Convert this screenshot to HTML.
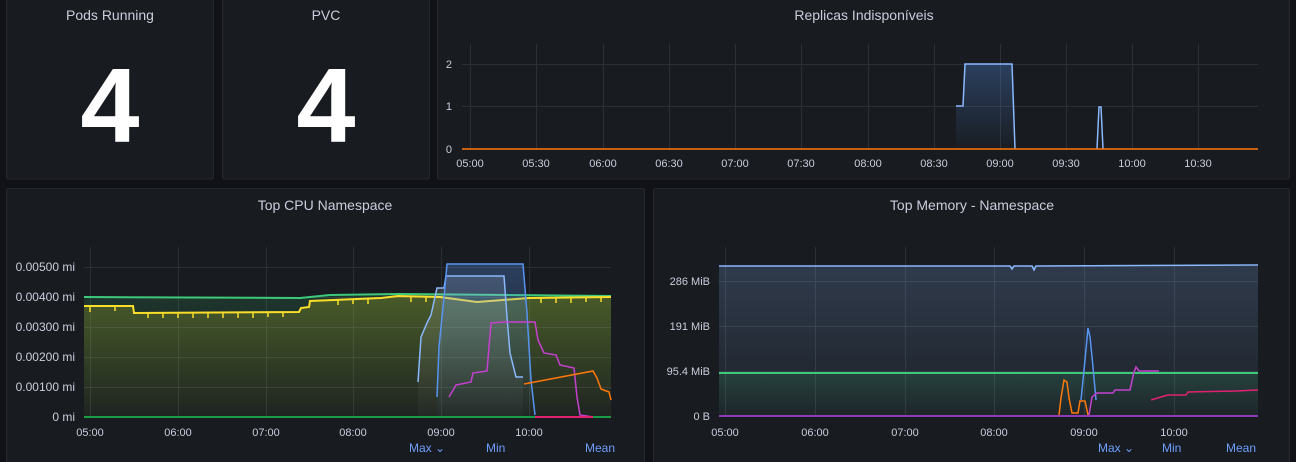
<!DOCTYPE html>
<html><head><meta charset="utf-8"><style>
html,body{margin:0;padding:0;background:#111217;width:1296px;height:462px;overflow:hidden}
svg{display:block}
text{font-family:"Liberation Sans",sans-serif}
</style></head><body>
<svg width="1296" height="462" viewBox="0 0 1296 462" xmlns="http://www.w3.org/2000/svg">
<defs>
<linearGradient id="gb" x1="0" y1="0" x2="0" y2="1"><stop offset="0" stop-color="#5794f2" stop-opacity="0.3"/><stop offset="1" stop-color="#5794f2" stop-opacity="0.02"/></linearGradient>
<linearGradient id="gm" x1="0" y1="0" x2="0" y2="1"><stop offset="0" stop-color="#8ab8ff" stop-opacity="0.2"/><stop offset="1" stop-color="#8ab8ff" stop-opacity="0.04"/></linearGradient>
<linearGradient id="gy" x1="0" y1="0" x2="0" y2="1"><stop offset="0" stop-color="#c8c81e" stop-opacity="0.25"/><stop offset="1" stop-color="#c8c81e" stop-opacity="0.03"/></linearGradient>
<linearGradient id="gg" x1="0" y1="0" x2="0" y2="1"><stop offset="0" stop-color="#3ec97a" stop-opacity="0.15"/><stop offset="1" stop-color="#3ec97a" stop-opacity="0.02"/></linearGradient>
<linearGradient id="gw" x1="0" y1="0" x2="0" y2="1"><stop offset="0" stop-color="#ffffff" stop-opacity="0.15"/><stop offset="1" stop-color="#ffffff" stop-opacity="0.02"/></linearGradient>
<clipPath id="cp"><rect x="14" y="188" width="630" height="280"/></clipPath>
</defs>
<g fill="#181b1f" stroke="#25282e" stroke-width="1">
<rect x="6.5" y="-5" width="207" height="184" rx="2"/>
<rect x="222.5" y="-5" width="207" height="184" rx="2"/>
<rect x="437.5" y="-5" width="852" height="184" rx="2"/>
<rect x="6.5" y="188.5" width="638" height="280" rx="2"/>
<rect x="653.5" y="188.5" width="636" height="280" rx="2"/>
</g>
<g fill="#ccccdc" font-size="14" text-anchor="middle" font-weight="500">
<text x="110" y="20">Pods Running</text>
<text x="326" y="20">PVC</text>
<text x="864" y="20">Replicas Indisponíveis</text>
<text x="325" y="210">Top CPU Namespace</text>
<text x="972" y="210">Top Memory - Namespace</text>
</g>
<g fill="#ffffff" font-size="106" font-weight="bold" text-anchor="middle">
<text x="110" y="142">4</text>
<text x="326" y="142">4</text>
</g>
<!-- Replicas -->
<g stroke="#2c2f35" stroke-width="1">
<line x1="462" y1="64.5" x2="1258" y2="64.5"/><line x1="462" y1="106.5" x2="1258" y2="106.5"/>
<line x1="470.5" y1="44" x2="470.5" y2="149"/><line x1="536.5" y1="44" x2="536.5" y2="149"/><line x1="603.5" y1="44" x2="603.5" y2="149"/><line x1="669.5" y1="44" x2="669.5" y2="149"/><line x1="735.5" y1="44" x2="735.5" y2="149"/><line x1="801.5" y1="44" x2="801.5" y2="149"/><line x1="868.5" y1="44" x2="868.5" y2="149"/><line x1="934.5" y1="44" x2="934.5" y2="149"/><line x1="1000.5" y1="44" x2="1000.5" y2="149"/><line x1="1066.5" y1="44" x2="1066.5" y2="149"/><line x1="1132.5" y1="44" x2="1132.5" y2="149"/><line x1="1198.5" y1="44" x2="1198.5" y2="149"/>
</g>
<g fill="#ccccdc" font-size="11">
<text x="452" y="68" text-anchor="end">2</text><text x="452" y="110" text-anchor="end">1</text><text x="452" y="153" text-anchor="end">0</text>
<g text-anchor="middle"><text x="470" y="167">05:00</text><text x="536" y="167">05:30</text><text x="603" y="167">06:00</text><text x="669" y="167">06:30</text><text x="735" y="167">07:00</text><text x="801" y="167">07:30</text><text x="868" y="167">08:00</text><text x="934" y="167">08:30</text><text x="1000" y="167">09:00</text><text x="1066" y="167">09:30</text><text x="1132" y="167">10:00</text><text x="1198" y="167">10:30</text></g>
</g>
<path d="M956 149 L956 106 L963 106 L965 64 L1012 64 L1015 149 Z" fill="url(#gb)"/>
<path d="M956 106 L963 106 L965 64 L1012 64 L1015 149" fill="none" stroke="#8ab8ff" stroke-width="1.5"/>
<path d="M1097 149 L1099 107 L1101 107 L1103 149" fill="none" stroke="#8ab8ff" stroke-width="1.5"/>
<line x1="462" y1="149" x2="1258" y2="149" stroke="#ff780a" stroke-width="1.5"/>
<!-- CPU -->
<g stroke="#2c2f35" stroke-width="1">
<line x1="84" y1="267.5" x2="611" y2="267.5"/><line x1="84" y1="297.5" x2="611" y2="297.5"/><line x1="84" y1="327.5" x2="611" y2="327.5"/><line x1="84" y1="357.5" x2="611" y2="357.5"/><line x1="84" y1="387.5" x2="611" y2="387.5"/>
<line x1="90.5" y1="247" x2="90.5" y2="417"/><line x1="178.5" y1="247" x2="178.5" y2="417"/><line x1="266.5" y1="247" x2="266.5" y2="417"/><line x1="353.5" y1="247" x2="353.5" y2="417"/><line x1="441.5" y1="247" x2="441.5" y2="417"/><line x1="529.5" y1="247" x2="529.5" y2="417"/>
</g>
<g fill="#ccccdc" font-size="12" clip-path="url(#cp)">
<g text-anchor="end"><text x="75" y="271">0.00500 mi</text><text x="75" y="301">0.00400 mi</text><text x="75" y="331">0.00300 mi</text><text x="75" y="361">0.00200 mi</text><text x="75" y="391">0.00100 mi</text><text x="75" y="421">0 mi</text></g>
</g>
<g fill="#ccccdc" font-size="11">
<g text-anchor="middle"><text x="90" y="436">05:00</text><text x="178" y="436">06:00</text><text x="266" y="436">07:00</text><text x="353" y="436">08:00</text><text x="441" y="436">09:00</text><text x="529" y="436">10:00</text></g>
</g>
<path d="M84 297 L300 298 L330 295 L400 294 L611 296 L611 417 L84 417 Z" fill="url(#gg)"/>
<path d="M84 306 L133 306 L134 313 L299 312 L301 308 L309 307 L310 301 L381 298 L398 296 L440 297 L477 302 L529 298 L611 297 L611 417 L84 417 Z" fill="url(#gy)"/>
<path d="M84 297 L300 298 L330 295 L400 294 L611 296" fill="none" stroke="#3ec97a" stroke-width="2"/>
<path d="M84 306 L133 306 L134 313 L299 312 L301 308 L309 307 L310 301 L381 298 L398 296 L440 297 L477 302 L529 298 L611 297" fill="none" stroke="#fade2a" stroke-width="2"/>
<g stroke="#fade2a" stroke-width="1.5">
<line x1="90" y1="306" x2="90" y2="312"/><line x1="115" y1="306" x2="115" y2="311"/><line x1="148" y1="313" x2="148" y2="318"/><line x1="163" y1="313" x2="163" y2="318"/><line x1="178" y1="313" x2="178" y2="318"/><line x1="193" y1="313" x2="193" y2="318"/><line x1="208" y1="313" x2="208" y2="318"/><line x1="223" y1="313" x2="223" y2="318"/><line x1="238" y1="313" x2="238" y2="318"/><line x1="253" y1="313" x2="253" y2="318"/><line x1="268" y1="312" x2="268" y2="317"/><line x1="283" y1="312" x2="283" y2="317"/><line x1="338" y1="300" x2="338" y2="305"/><line x1="353" y1="299" x2="353" y2="304"/><line x1="368" y1="299" x2="368" y2="304"/><line x1="411" y1="297" x2="411" y2="302"/><line x1="426" y1="297" x2="426" y2="302"/><line x1="541" y1="298" x2="541" y2="303"/><line x1="556" y1="298" x2="556" y2="303"/><line x1="571" y1="298" x2="571" y2="303"/><line x1="586" y1="297" x2="586" y2="302"/><line x1="601" y1="297" x2="601" y2="302"/>
</g>
<path d="M418 382 L421 337 L427 323 L431 315 L437 288 L444 288 L446 276 L504 276 L507 317 L510 353 L516 377 L523 377 L523 417 L418 417Z" fill="url(#gw)"/>
<path d="M437 397 L439 347 L444 297 L447 264 L523 264 L527 313 L531 380 L535 415 L535 417 L437 417Z" fill="url(#gb)"/>
<path d="M418 382 L421 337 L427 323 L431 315 L437 288 L444 288 L446 276 L504 276 L507 317 L510 353 L516 377 L523 377" fill="none" stroke="#8ab8ff" stroke-width="1.5"/>
<path d="M437 397 L439 347 L444 297 L447 264 L523 264 L527 313 L531 380 L535 415" fill="none" stroke="#5794f2" stroke-width="1.5"/>
<path d="M449 397 L456 385 L471 382 L473 373 L487 371 L491 323 L504 322 L535 322 L538 340 L544 353 L556 355 L560 365 L574 368 L577 397 L580 415 L593 417" fill="none" stroke="#c640d0" stroke-width="1.5"/>
<path d="M524 384 L593 371 L597 378 L601 389 L609 392 L611 400" fill="none" stroke="#ff780a" stroke-width="1.5"/>
<line x1="84" y1="417" x2="611" y2="417" stroke="#1a9e45" stroke-width="2"/>
<line x1="535" y1="417" x2="593" y2="417" stroke="#e0226e" stroke-width="2"/>
<g fill="#6e9fff" font-size="12"><text x="409" y="452">Max ⌄</text><text x="486" y="452">Min</text><text x="585" y="452">Mean</text></g>
<!-- Memory -->
<g stroke="#2c2f35" stroke-width="1">
<line x1="719" y1="281.5" x2="1258" y2="281.5"/><line x1="719" y1="326.5" x2="1258" y2="326.5"/><line x1="719" y1="371.5" x2="1258" y2="371.5"/>
<line x1="725.5" y1="247" x2="725.5" y2="416"/><line x1="815.5" y1="247" x2="815.5" y2="416"/><line x1="905.5" y1="247" x2="905.5" y2="416"/><line x1="994.5" y1="247" x2="994.5" y2="416"/><line x1="1084.5" y1="247" x2="1084.5" y2="416"/><line x1="1174.5" y1="247" x2="1174.5" y2="416"/>
</g>
<g fill="#ccccdc" font-size="11">
<g text-anchor="end"><text x="710" y="285">286 MiB</text><text x="710" y="330">191 MiB</text><text x="710" y="375">95.4 MiB</text><text x="710" y="420">0 B</text></g>
<g text-anchor="middle"><text x="725" y="436">05:00</text><text x="815" y="436">06:00</text><text x="905" y="436">07:00</text><text x="994" y="436">08:00</text><text x="1084" y="436">09:00</text><text x="1174" y="436">10:00</text></g>
</g>
<rect x="719" y="266" width="539" height="150" fill="url(#gm)"/>
<rect x="719" y="373" width="539" height="43" fill="url(#gg)"/>
<path d="M719 266 L1010 266 L1012 269 L1014 266 L1032 266 L1034 270 L1036 266 L1258 265" fill="none" stroke="#8ab8ff" stroke-width="1.5"/>
<line x1="719" y1="373" x2="1258" y2="373" stroke="#3ec97a" stroke-width="2"/>
<line x1="719" y1="416" x2="1258" y2="416" stroke="#8f3bb8" stroke-width="2"/>
<path d="M1081 400 L1085 360 L1088 328 L1090 337 L1093 367 L1096 400" fill="none" stroke="#5794f2" stroke-width="1.5"/>
<path d="M1059 415 L1061 398 L1064 380 L1067 382 L1069 398 L1072 413 L1078 413 L1080 401 L1085 401 L1088 415" fill="none" stroke="#ff780a" stroke-width="1.5"/>
<path d="M1089 415 L1092 397 L1097 393 L1113 393 L1115 390 L1130 390 L1134 372 L1136 367 L1139 371 L1159 371" fill="none" stroke="#c640d0" stroke-width="1.5"/>
<path d="M1151 400 L1161 397 L1168 395 L1186 395 L1188 392 L1235 391 L1258 390" fill="none" stroke="#e0226e" stroke-width="1.5"/>
<g fill="#6e9fff" font-size="12"><text x="1098" y="452">Max ⌄</text><text x="1162" y="452">Min</text><text x="1226" y="452">Mean</text></g>
</svg>
</body></html>
